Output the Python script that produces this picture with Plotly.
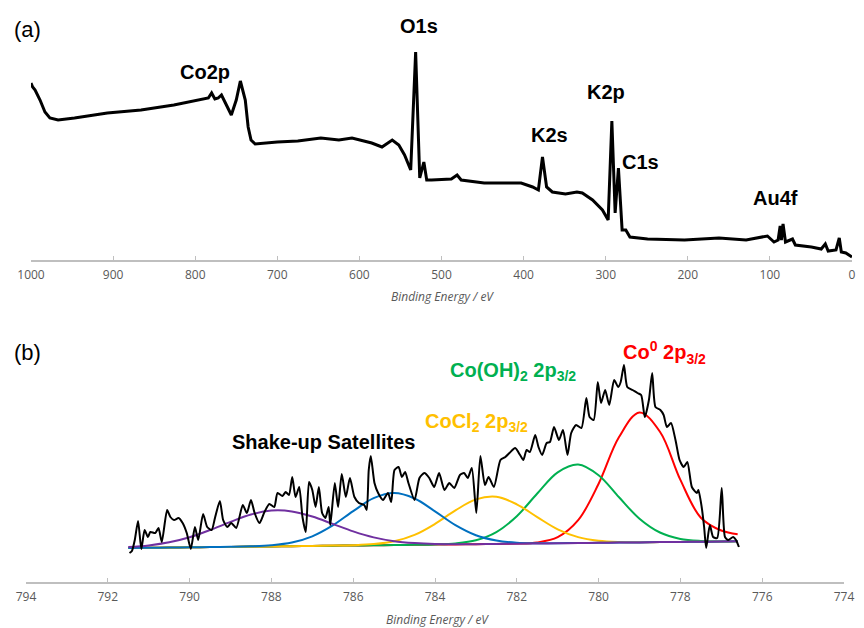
import plotly.graph_objects as go

# page body adds an 8px margin, so the figure is drawn 8px right/down
OFF = 8
W, H = 864 - 2 * OFF, 628 - OFF

# ---------------- (a) survey spectrum ----------------
survey_be = [1000, 998, 995, 989, 983, 977, 967, 947, 907, 866, 826, 808, 796, 784, 780, 776, 772, 768,
             762, 756, 750, 745, 739, 735.5, 732, 727, 700, 675, 647, 625, 609, 585, 572.5, 560,
             552, 545, 537.5, 531.5, 526.5, 521.5, 518, 512, 488, 481, 476, 448, 403, 389, 382,
             377, 372, 365, 349, 335, 328.5, 316, 304, 297, 292.5, 288.5, 284.5, 280, 275.5, 270.5,
             249, 204, 162, 129, 103, 95, 90, 87.5, 86, 84, 81, 72.5, 69, 49.5, 37.5, 32.5, 29,
             19.5, 15.5, 13, 7.5, 1, 0]
survey_int = [177, 173, 170, 160, 148, 142, 140, 142, 147, 150, 155, 158, 160, 162, 167, 161, 162, 165,
              155, 145, 160, 179, 160, 133, 120, 116, 118, 119, 122, 120, 122, 117, 113, 120,
              115, 105, 90, 208, 82, 98, 80, 80, 81, 85, 80, 77, 77, 73, 70,
              103, 73, 68, 66, 68, 67, 60, 50, 40, 139, 47, 92, 30, 30, 23,
              21, 20, 22, 20, 24, 18, 20, 34, 20, 36, 18, 21, 15, 13, 11, 16, 9,
              10, 22, 8, 7, 4, 3]
survey_labels = ["Co2p", "O1s", "K2s", "K2p", "C1s", "Au4f"]

# ---------------- (b) Co 2p3/2 high resolution ----------------
co_be = [791.47, 791.41, 791.34, 791.26, 791.18, 791.10, 791.02, 790.96, 790.84, 790.76, 790.68,
         790.55, 790.47, 790.38, 790.27, 790.17, 790.07, 789.97, 789.87, 789.79, 789.67, 789.57,
         789.46, 789.38, 789.26, 789.18, 789.08, 788.98, 788.86, 788.70, 788.60, 788.50, 788.41,
         788.29, 788.17, 788.05, 787.93, 787.85, 787.73, 787.65, 787.57, 787.49, 787.41, 787.32,
         787.24, 787.16, 787.08, 787.00, 786.92, 786.84, 786.76, 786.68, 786.60, 786.56, 786.45,
         786.37, 786.28, 786.18, 786.08, 785.97, 785.86, 785.73, 785.67, 785.62, 785.57, 785.48,
         785.39, 785.27, 785.15, 785.07, 784.99, 784.89, 784.81, 784.73, 784.65, 784.50, 784.38,
         784.26, 784.14, 784.02, 783.90, 783.77, 783.65, 783.53, 783.39, 783.29, 783.20, 783.10,
         782.99, 782.89, 782.78, 782.69, 782.56, 782.40, 782.28, 782.18, 782.04, 781.92, 781.84,
         781.76, 781.68, 781.55, 781.47, 781.38, 781.27, 781.19, 781.09, 780.97, 780.87, 780.76,
         780.67, 780.55, 780.42, 780.30, 780.22, 780.12, 780.02, 779.94, 779.84, 779.74, 779.62,
         779.52, 779.46, 779.38, 779.30, 779.17, 779.05, 778.96, 778.87, 778.77, 778.69, 778.61,
         778.49, 778.41, 778.33, 778.23, 778.12, 778.02, 777.92, 777.83, 777.72, 777.60, 777.56,
         777.48, 777.42, 777.37, 777.28, 777.20, 777.10, 776.99, 776.91, 776.83, 776.71, 776.64,
         776.57]
co_int = [29, 31, 42, 61, 33, 52, 45, 50, 49, 54, 40,
          72, 65, 62, 64, 59, 49, 33, 55, 42, 68, 55,
          52, 64, 81, 62, 55, 59, 54, 77, 69, 82, 69,
          59, 70, 78, 75, 89, 86, 90, 87, 105, 85, 95,
          65, 50, 100, 92, 75, 95, 69, 64, 75, 57, 99,
          75, 108, 85, 104, 85, 79, 77, 72, 112, 126, 99,
          89, 82, 89, 80, 112, 115, 105, 110, 99, 82, 104,
          109, 104, 95, 109, 92, 99, 94, 107, 109, 104, 114,
          69, 126, 97, 105, 95, 122, 125, 129, 134, 127, 122,
          132, 130, 147, 135, 127, 139, 140, 155, 142, 152, 127,
          149, 157, 154, 184, 165, 162, 200, 179, 192, 177, 202,
          195, 200, 217, 195, 192, 189, 187, 165, 182, 209, 175,
          172, 167, 155, 159, 142, 122, 115, 120, 95, 89, 92,
          75, 55, 34, 57, 45, 44, 94, 45, 42, 45, 42,
          35]

# fitted components, read on a 0.5 eV grid
fit_be = [791.5, 791.0, 790.5, 790.0, 789.5, 789.0, 788.5, 788.0, 787.5, 787.0, 786.5, 786.0,
          785.5, 785.0, 784.5, 784.0, 783.5, 783.0, 782.5, 782.0, 781.5, 781.0, 780.5, 780.0,
          779.5, 779.0, 778.5, 778.0, 777.5, 777.0, 776.6]
fit_satellite1 = [34.9, 36.6, 39.7, 44.8, 52.0, 60.1, 67.5, 71.4, 70.6, 65.5, 58.1, 50.6,
                  44.6, 40.8, 38.9, 38.0, 37.8, 37.8, 38.1, 38.3, 38.5, 38.7, 39.0, 39.2,
                  39.4, 39.6, 39.9, 40.1, 40.3, 40.5, 40.8]
fit_satellite2 = [34.0, 34.2, 34.5, 34.7, 34.9, 35.2, 35.7, 36.8, 39.5, 45.7, 56.6, 70.9,
                  83.8, 88.9, 83.5, 70.7, 56.9, 46.8, 41.5, 39.3, 38.8, 38.8, 39.0, 39.2,
                  39.4, 39.6, 39.9, 40.1, 40.3, 40.5, 40.8]
fit_cocl2 = [34.0, 34.2, 34.5, 34.7, 34.9, 35.1, 35.4, 35.6, 35.8, 36.0, 36.4, 36.8,
             37.9, 40.7, 47.1, 58.1, 71.6, 82.6, 85.2, 77.7, 64.9, 52.7, 44.9, 41.2,
             39.9, 39.7, 39.9, 40.1, 40.3, 40.5, 40.8]
fit_cooh2 = [34.0, 34.2, 34.5, 34.7, 34.9, 35.1, 35.4, 35.6, 35.8, 36.0, 36.3, 36.5,
             36.7, 36.9, 37.2, 37.6, 38.6, 41.7, 49.9, 65.8, 88.5, 109.7, 117.5, 106.8,
             84.7, 63.3, 49.5, 43.1, 41.0, 40.6, 40.8]
fit_co0 = [34.0, 34.2, 34.5, 34.7, 34.9, 35.1, 35.4, 35.6, 35.8, 36.0, 36.3, 36.5,
           36.7, 36.9, 37.2, 37.4, 37.6, 37.8, 38.1, 38.4, 39.6, 44.8, 61.8, 98.2,
           144.9, 169.6, 150.2, 102.1, 64.3, 51.5, 47.8]

fit_names = ["Shake-up satellite 1", "Shake-up satellite 2", "CoCl2 2p3/2", "Co(OH)2 2p3/2", "Co0 2p3/2"]
fit_colors = ["#7030A0", "#0070C0", "#FFC000", "#00B050", "#FF0000"]

fig = go.Figure()
fig.add_trace(go.Scatter(x=survey_be, y=survey_int, mode="lines",
                         line=dict(color="black", width=3), xaxis="x", yaxis="y",
                         showlegend=False))

fits = [fit_satellite1, fit_satellite2, fit_cocl2, fit_cooh2, fit_co0]
for idx in [4, 3, 2, 1, 0]:
    fig.add_trace(go.Scatter(x=fit_be, y=fits[idx], mode="lines", name=fit_names[idx],
                             line=dict(color=fit_colors[idx], width=2, shape="spline", smoothing=1.0),
                             xaxis="x2", yaxis="y2", showlegend=False))
fig.add_trace(go.Scatter(x=co_be, y=co_int, mode="lines",
                         line=dict(color="black", width=2, shape="spline", smoothing=0.6),
                         xaxis="x2", yaxis="y2", showlegend=False))

axis_common = dict(showgrid=False, zeroline=False, showline=True, linecolor="#BFBFBF", linewidth=1.5,
                   ticks="inside", ticklen=4, tickwidth=1, tickcolor="#BFBFBF",
                   tickfont=dict(family="Open Sans", size=12, color="#595959"),
                   automargin=False, tickmode="linear", ticklabelstandoff=3,
                   ticklabeloverflow="allow")


def fx(px):
    return (px - OFF) / W


def fy(py):
    return 1 - (py - OFF) / H


fig.update_layout(
    width=W, height=H, margin=dict(l=0, r=0, t=0, b=0),
    paper_bgcolor="white", plot_bgcolor="white", showlegend=False,
    xaxis=dict(domain=[fx(31), fx(852)], range=[1000, 0], anchor="y", tick0=0, dtick=100, **axis_common),
    yaxis=dict(domain=[fy(260), fy(40)], range=[0, 220], visible=False),
    xaxis2=dict(domain=[fx(26), fx(844)], range=[794, 774], anchor="y2", tick0=774, dtick=2, **axis_common),
    yaxis2=dict(domain=[fy(582), fy(342)], range=[0, 240], visible=False),
)

ann = []


def add_text(text, px, py, size=20, color="black", bold=True, italic=False, family="Liberation Sans"):
    t = text
    if bold:
        t = "<b>" + t + "</b>"
    if italic:
        t = "<i>" + t + "</i>"
    ann.append(dict(text=t, x=fx(px), y=fy(py), xref="paper", yref="paper", showarrow=False,
                    xanchor="center", yanchor="middle",
                    font=dict(family=family, size=size, color=color)))


add_text("(a)", 27, 29, size=22, bold=False)
add_text("(b)", 27, 352, size=22, bold=False)
label_pos = {"Co2p": (205, 72), "O1s": (419, 26), "K2s": (549, 135), "K2p": (606, 92),
             "C1s": (640, 162), "Au4f": (775, 198)}
for lab in survey_labels:
    add_text(lab, *label_pos[lab])

add_text("Binding Energy / eV", 442, 296, size=12, color="#595959", bold=False, italic=True,
         family="Open Sans")
add_text("Binding Energy / eV", 437, 619, size=12, color="#595959", bold=False, italic=True,
         family="Open Sans")

add_text("Shake-up Satellites", 323, 442)
add_text("CoCl<sub>2</sub> 2p<sub>3/2</sub>", 476, 422, color="#FFC000")
add_text("Co(OH)<sub>2</sub> 2p<sub>3/2</sub>", 513, 372, color="#00B050")
add_text("Co<sup>0</sup> 2p<sub>3/2</sub>", 664, 353, color="#FF0000")

fig.update_layout(annotations=ann)
fig.write_html("out.html")
